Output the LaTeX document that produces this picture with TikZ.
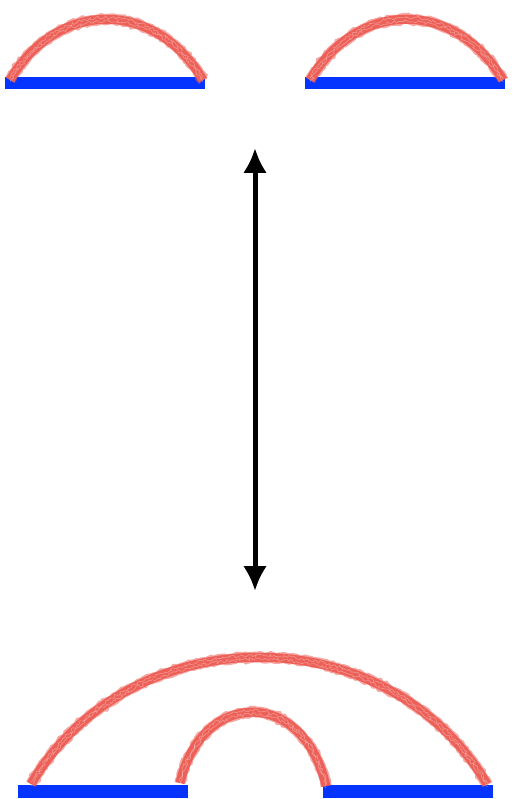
\documentclass[tikz,border=0pt]{standalone}
\usetikzlibrary{arrows.meta,decorations.pathmorphing}
\definecolor{crayon}{RGB}{236,96,88}
\definecolor{barblue}{RGB}{5,51,255}
\tikzset{
  bar/.style={fill=barblue, draw=none},
  arcline/.style={draw=crayon, line width=9pt, line cap=butt},
  arcrough/.style={draw=crayon, opacity=0.55, line width=11pt, decorate, decoration={random steps, segment length=3pt, amplitude=1pt}},
  arcspeck/.style={draw=white, opacity=0.3, line width=0.7pt, decorate, decoration={random steps, segment length=2pt, amplitude=1.6pt}},
  dbl/.style={line width=5pt, {Latex[length=25pt,width=24pt]}-{Latex[length=25pt,width=24pt]}}
}
\newcommand{\arcA}{(10,80) .. controls (58,-1) and (155,-1) .. (203,80)}
\newcommand{\arcB}{(310,80) .. controls (358,-1) and (455,-1) .. (503,80)}
\newcommand{\arcC}{(31,784) .. controls (131,615) and (387,615) .. (487,784)}
\newcommand{\arcD}{(180,783) .. controls (202,688) and (304,688) .. (326,786)}
\begin{document}
\begin{tikzpicture}[x=1pt,y=-1pt]
\useasboundingbox (0,0) rectangle (520,799);
% bars
\fill[bar] (5,77) rectangle (205,89);
\fill[bar] (305,77) rectangle (505,89);
\fill[bar] (18,785) rectangle (188,798);
\fill[bar] (323,785) rectangle (493,798);
% arcs
\foreach \s in {arcrough,arcline}{
  \draw[\s] \arcA;
  \draw[\s] \arcB;
  \draw[\s] \arcC;
  \draw[\s] \arcD;
}
\foreach \o in {-1.8,1.8}{
  \begin{scope}[yshift=\o pt]
  \draw[arcspeck] \arcA;
  \draw[arcspeck] \arcB;
  \draw[arcspeck] \arcC;
  \draw[arcspeck] \arcD;
  \end{scope}
}
% arrow
\coordinate (top) at (255,148);
\coordinate (bot) at (255,591);
\draw[dbl] (top) -- (bot);
\end{tikzpicture}
\end{document}
